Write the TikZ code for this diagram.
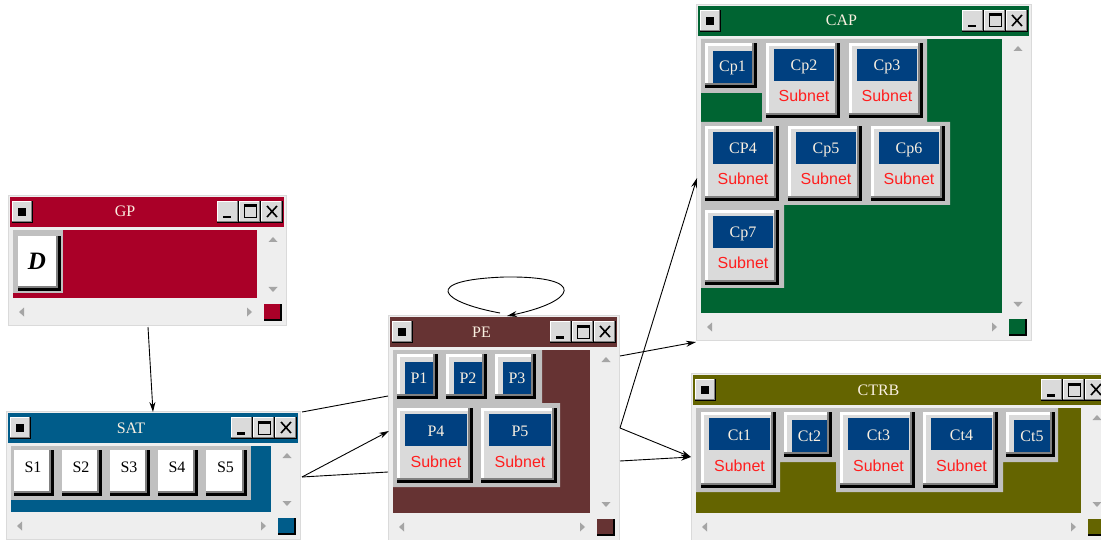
\documentclass[tikz,border=0pt]{standalone}
\usepackage{fontspec}
\setmainfont{Liberation Serif}
\newfontfamily\subnetfont{Liberation Sans}
\usetikzlibrary{arrows.meta}
\definecolor{win_bg}{RGB}{238,238,238}
\definecolor{win_edge}{RGB}{218,218,218}
\definecolor{gp_red}{RGB}{170,0,40}
\definecolor{sat_blue}{RGB}{0,92,138}
\definecolor{pe_brown}{RGB}{102,51,51}
\definecolor{cap_green}{RGB}{0,100,50}
\definecolor{ctrb_olive}{RGB}{100,100,0}
\definecolor{btn_blue}{RGB}{0,64,128}
\definecolor{btn_face}{RGB}{218,218,218}
\definecolor{box_gray}{RGB}{192,192,192}
\definecolor{edge_dark}{RGB}{128,128,128}
\definecolor{arrow_gray}{RGB}{165,165,165}
\definecolor{title_text}{RGB}{250,240,225}
\definecolor{subnet_red}{RGB}{255,30,30}
% raised frame: white upper left, black shadow lower right
\newcommand\btnframe[4]{%
  \fill[black] (#1,#2) rectangle (#3,#4);
  \fill[edge_dark] (#1,#2) rectangle (#3-3,#4-3);
  \fill[white] (#1,#2) rectangle (#3-5,#4-5);}
\newcommand\tbtn[4]{%
  \fill[black] (#1,#2) rectangle (#3,#4);
  \fill[edge_dark] (#1,#2) rectangle (#3-1,#4-1);
  \fill[white] (#1,#2) rectangle (#3-2,#4-2);
  \fill[btn_face] (#1+1,#2+1) rectangle (#3-2,#4-2);}
\newcommand\plainbtn[6]{%
  \btnframe{#2}{#3}{#4}{#5}
  \fill[white] (#2+3,#3+3) rectangle (#4-5,#5-5);
  \node[dark_lbl] (#1) at ({(#2+#4)/2-1},#3+17) {#6};}
\newcommand\smallbtn[6]{%
  \btnframe{#2}{#3}{#4}{#5}
  \fill[btn_face] (#2+3,#3+3) rectangle (#4-5,#5-5);
  \fill[btn_blue] (#2+8,#3+8) rectangle (#4-5,#5-5);
  \node[light_lbl] (#1) at ({(#2+#4)/2+1.5},{(#3+#5)/2+1.5}) {#6};}
\newcommand\subnetbtn[6]{%
  \btnframe{#2}{#3}{#4}{#5}
  \fill[btn_face] (#2+3,#3+3) rectangle (#4-5,#5-5);
  \fill[btn_blue] (#2+8,#3+6) rectangle (#4-6,#3+38);
  \node[light_lbl] (#1) at ({(#2+#4)/2+1},#3+23) {#6};
  \node[subnet_lbl] (#1sub) at ({(#2+#4)/2+1},#3+54) {Subnet};}
\newcommand\guiwin[7]{%
  \fill[win_bg,draw=win_edge] (#2,#3) rectangle (#4,#5);
  \fill[#6] (#2+2,#3+2) rectangle (#4-2,#3+32);
  \fill[#6] (#2+5,#3+35) rectangle (#4-29,#5-27);
  \tbtn{#2+4}{#3+6}{#2+25}{#3+28}
  \fill[black] (#2+10,#3+13) rectangle (#2+18,#3+21);
  \tbtn{#4-69}{#3+6}{#4-47}{#3+28}
  \fill[black] (#4-63,#3+21) rectangle (#4-55,#3+23.5);
  \tbtn{#4-47}{#3+6}{#4-25}{#3+28}
  \draw[black,line width=1pt] (#4-42,#3+10) rectangle (#4-30,#3+23);
  \fill[black] (#4-42,#3+10) rectangle (#4-30,#3+12.5);
  \tbtn{#4-25}{#3+6}{#4-3}{#3+28}
  \draw[black,line width=1.6pt] (#4-19,#3+11) -- (#4-9,#3+22) (#4-19,#3+22) -- (#4-9,#3+11);
  \fill[arrow_gray] (#4-13,#3+42) -- (#4-8.5,#3+47) -- (#4-17.5,#3+47) -- cycle;
  \fill[arrow_gray] (#4-13,#5-33) -- (#4-8.5,#5-38) -- (#4-17.5,#5-38) -- cycle;
  \fill[arrow_gray] (#2+11,#5-13) -- (#2+16,#5-17.5) -- (#2+16,#5-8.5) -- cycle;
  \fill[arrow_gray] (#4-34,#5-13) -- (#4-39,#5-17.5) -- (#4-39,#5-8.5) -- cycle;
  \fill[black] (#4-22,#5-21) rectangle (#4-4,#5-4);
  \fill[#6] (#4-22,#5-21) rectangle (#4-6,#5-6);
  \node[title_lbl] (#1) at ({(#2+#4)/2-22},#3+17) {#7};}

\begin{document}
\begin{tikzpicture}[x=1pt,y=-1pt,>={Stealth[length=10pt,width=6pt]}]
    \tikzstyle{lbl}=[inner sep=0pt, text height=10pt, text depth=0pt, font=\fontsize{16}{18}\selectfont]
    \tikzstyle{title_lbl}=[style=lbl, text=title_text]
    \tikzstyle{light_lbl}=[style=lbl, text=title_text]
    \tikzstyle{dark_lbl}=[style=lbl, text=black]
    \tikzstyle{subnet_lbl}=[style=lbl, text=subnet_red, font=\subnetfont\fontsize{16}{18}\selectfont]
    \tikzstyle{link}=[draw=black, line width=0.9pt]

    \useasboundingbox (0,0) rectangle (1101,540);
    \clip (0,0) rectangle (1101,540);

    % GP
    \guiwin{gp}{8}{195}{286}{325}{gp_red}{GP}
    \fill[box_gray] (13,230) rectangle (63,293);
    \btnframe{18}{236}{61}{291}
    \fill[white] (21,239) rectangle (56,286);
    \node[dark_lbl, font=\fontsize{25}{28}\selectfont\bfseries\itshape, text height=16pt] (d) at (37,262) {D};

    % SAT
    \guiwin{sat}{6}{411}{300}{539}{sat_blue}{SAT}
    \fill[box_gray] (11,446) rectangle (251,500);
    \plainbtn{s1}{14}{450}{54}{496}{S1}
    \plainbtn{s2}{62}{450}{102}{496}{S2}
    \plainbtn{s3}{110}{450}{150}{496}{S3}
    \plainbtn{s4}{158}{450}{198}{496}{S4}
    \plainbtn{s5}{206}{450}{247}{496}{S5}

    % PE
    \guiwin{pe}{388}{315}{619}{540}{pe_brown}{PE}
    \fill[box_gray] (393,350) -- (542,350) -- (542,403) -- (560,403) -- (560,487) -- (393,487) -- cycle;
    \smallbtn{p1}{397}{354}{438}{399}{P1}
    \smallbtn{p2}{446}{354}{487}{399}{P2}
    \smallbtn{p3}{495}{354}{536}{399}{P3}
    \subnetbtn{p4}{397}{408}{473}{483}{P4}
    \subnetbtn{p5}{481}{408}{557}{483}{P5}

    % CAP
    \guiwin{cap}{696}{4}{1031}{340}{cap_green}{CAP}
    \fill[box_gray] (701,39) -- (927,39) -- (927,122) -- (950,122) -- (950,205) -- (784,205)
        -- (784,288) -- (701,288) -- (701,122) -- (762,122) -- (762,93) -- (701,93) -- cycle;
    \smallbtn{cp1}{705}{43}{757}{88}{Cp1}
    \subnetbtn{cp2}{766}{43}{840}{118}{Cp2}
    \subnetbtn{cp3}{849}{43}{923}{118}{Cp3}
    \subnetbtn{cp4}{705}{126}{779}{201}{CP4}
    \subnetbtn{cp5}{788}{126}{862}{201}{Cp5}
    \subnetbtn{cp6}{871}{126}{945}{201}{Cp6}
    \subnetbtn{cp7}{705}{210}{779}{285}{Cp7}

    % CTRB
    \guiwin{ctrb}{691}{373}{1110}{540}{ctrb_olive}{CTRB}
    \fill[box_gray] (696,408) -- (1058,408) -- (1058,462) -- (1003,462) -- (1003,492) -- (836,492)
        -- (836,462) -- (780,462) -- (780,492) -- (696,492) -- cycle;
    \subnetbtn{ct1}{701}{412}{776}{488}{Ct1}
    \smallbtn{ct2}{784}{412}{832}{457}{Ct2}
    \subnetbtn{ct3}{840}{412}{915}{488}{Ct3}
    \subnetbtn{ct4}{923}{412}{998}{488}{Ct4}
    \smallbtn{ct5}{1006}{412}{1055}{457}{Ct5}

    % ends of the links on the window borders
    \coordinate (gp_out) at (148,327);
    \coordinate (sat_in) at (153,412);
    \coordinate (sat_out1) at (302,412);
    \coordinate (sat_out2) at (302,477);
    \coordinate (pe_in1) at (388,396);
    \coordinate (pe_in2) at (389,431);
    \coordinate (pe_in3) at (388,472);
    \coordinate (pe_out1) at (620,356);
    \coordinate (pe_out2) at (620,428);
    \coordinate (pe_out3) at (620,461);
    \coordinate (pe_top1) at (500,313);
    \coordinate (pe_top2) at (507,316);
    \coordinate (cap_in1) at (696,342);
    \coordinate (cap_in2) at (697,178);
    \coordinate (ctrb_in) at (691,457);

    \path[link]
     (gp_out)   edge[->] (sat_in)
     (sat_out1) edge     (pe_in1)
     (sat_out2) edge[->] (pe_in2)
     (sat_out2) edge     (pe_in3)
     (pe_out1)  edge[->] (cap_in1)
     (pe_out2)  edge[->] (cap_in2)
     (pe_out2)  edge[->] (ctrb_in)
     (pe_out3)  edge[->] (ctrb_in)
     ;
    \draw[link,->] (pe_top1) .. controls (440,302) and (420,280) .. (505,277)
        .. controls (590,276) and (575,302) .. (pe_top2);
\end{tikzpicture}
\end{document}
